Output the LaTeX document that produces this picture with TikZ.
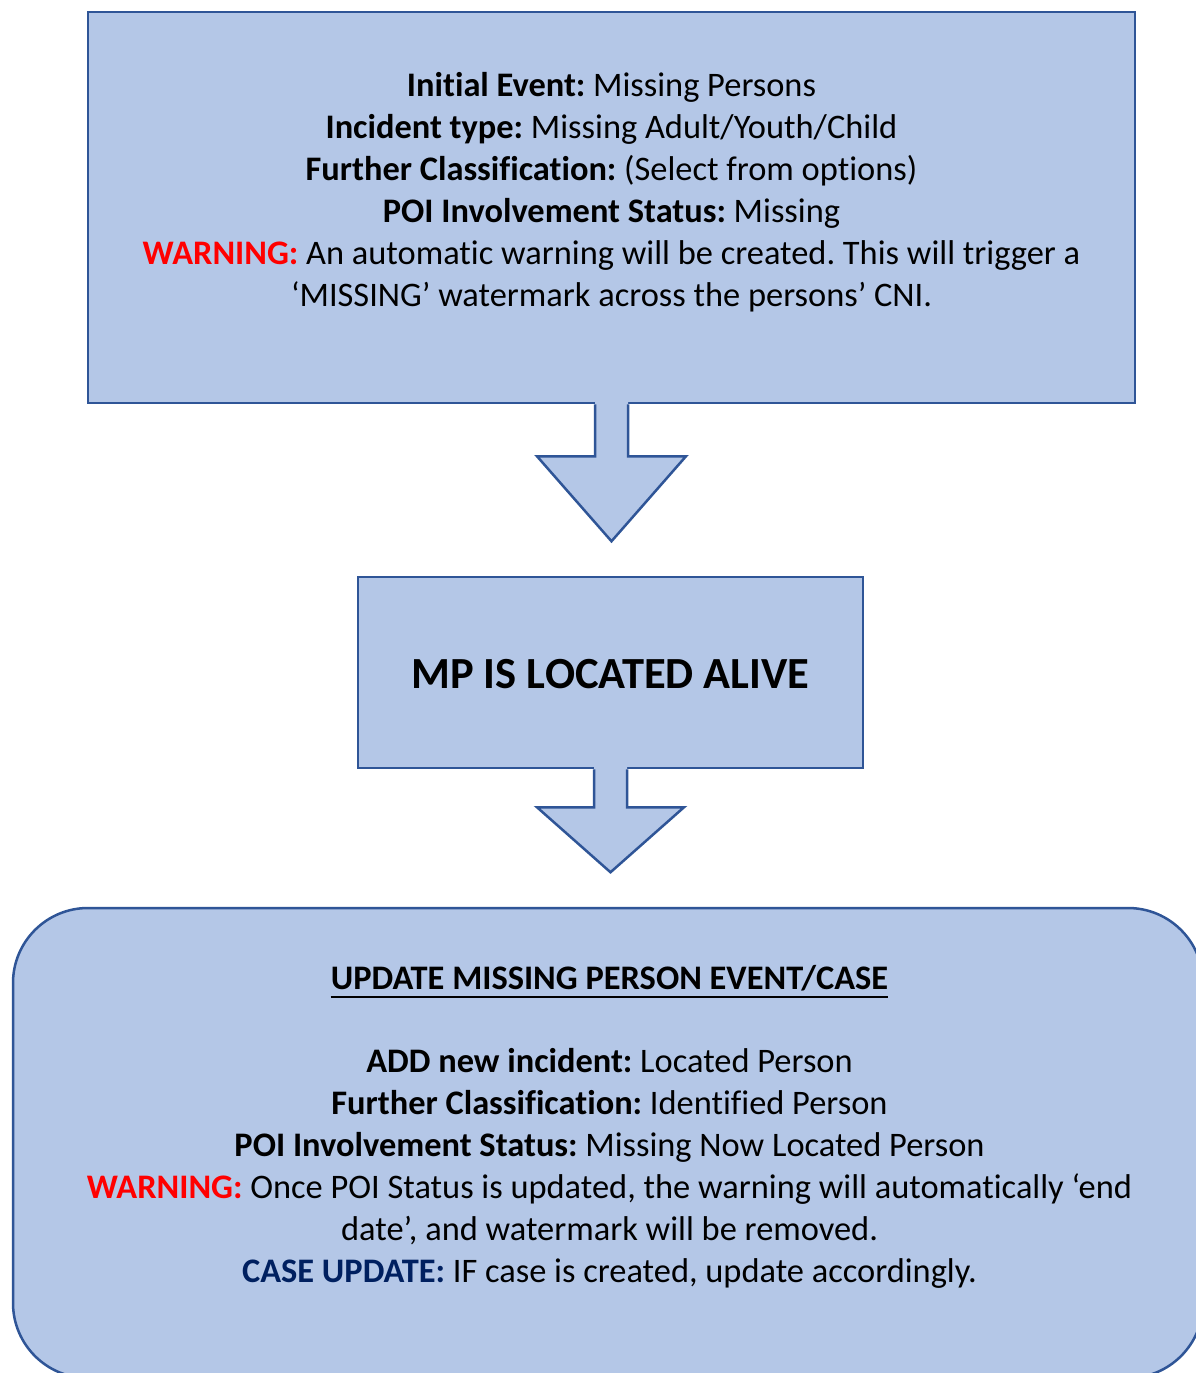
\documentclass[tikz,border=0pt]{standalone}
\usepackage{fontspec}
\setmainfont[Ligatures={NoCommon}]{Carlito}
\usetikzlibrary{calc}
\definecolor{boxfill}{HTML}{B4C7E7}
\definecolor{boxline}{HTML}{2F5597}
\definecolor{warnred}{HTML}{FF0000}
\definecolor{casenavy}{HTML}{002060}
\frenchspacing
\begin{document}
\begin{tikzpicture}[x=1pt,y=-1pt,
  box/.style={draw=boxline, fill=boxfill, line width=2.5pt, inner sep=0pt},
  txt/.style={align=center, inner sep=0pt, font=\fontsize{34.4}{42}\selectfont},
  bigtxt/.style={align=center, inner sep=0pt, font=\fontsize{44.5}{52}\selectfont\bfseries},
  arrline/.style={draw=boxline, line width=2.5pt, line join=miter}]
\useasboundingbox (0,0) rectangle (1196,1373);
\clip (0,0) rectangle (1196,1373);
\fill[white] (0,0) rectangle (1196,1373);

% top box
\node[box, minimum width=1047pt, minimum height=391pt] (top) at (611.5,207.5) {};
\node[txt] (toptext) at (611.5,192) {%
\textbf{Initial Event:} Missing Persons\\
\textbf{Incident type:} Missing Adult/Youth/Child\\
\textbf{Further Classification:} (Select from options)\\
\textbf{POI Involvement Status:} Missing\\
\textcolor{warnred}{\textbf{WARNING:}} An automatic warning will be created. This will trigger a\\
‘MISSING’ watermark across the persons’ CNI.};

% middle box
\node[box, minimum width=505pt, minimum height=191pt] (mid) at (610.5,672.5) {};
\node[bigtxt] (midtext) at (610.5,674) {MP IS LOCATED ALIVE};

% bottom box
\node[box, rounded corners=75pt, minimum width=1190pt, minimum height=470pt] (bot) at (608,1143) {};
\node[txt] (bottitle) at (609.5,978) {\textbf{UPDATE MISSING PERSON EVENT/CASE}};
\draw[line width=2.2pt, black] ($(bottitle.south west)+(0,6)$) -- ($(bottitle.south east)+(0,6)$);
\node[txt] (bottext) at (609.5,1168) {%
\textbf{ADD new incident:} Located Person\\
\textbf{Further Classification:} Identified Person\\
\textbf{POI Involvement Status:} Missing Now Located Person\\
\textcolor{warnred}{\textbf{WARNING:}} Once POI Status is updated, the warning will automatically ‘end\\
date’, and watermark will be removed.\\
\textcolor{casenavy}{\textbf{CASE UPDATE:}} IF case is created, update accordingly.};

% arrow 1
\begin{scope}[shift={(top.south)}]
\fill[boxfill] (-16.5,-3) -- (-16.5,52) -- (-74.5,52) -- (0,137) -- (74.5,52) -- (16.5,52) -- (16.5,-3) -- cycle;
\draw[arrline] (-16.5,0) -- (-16.5,52) -- (-74.5,52) -- (0,137) -- (74.5,52) -- (16.5,52) -- (16.5,0);
\end{scope}

% arrow 2
\begin{scope}[shift={(mid.south)}]
\fill[boxfill] (-16.5,-3) -- (-16.5,38) -- (-73.5,38) -- (0,103) -- (73.5,38) -- (16.5,38) -- (16.5,-3) -- cycle;
\draw[arrline] (-16.5,0) -- (-16.5,38) -- (-73.5,38) -- (0,103) -- (73.5,38) -- (16.5,38) -- (16.5,0);
\end{scope}
\end{tikzpicture}
\end{document}
